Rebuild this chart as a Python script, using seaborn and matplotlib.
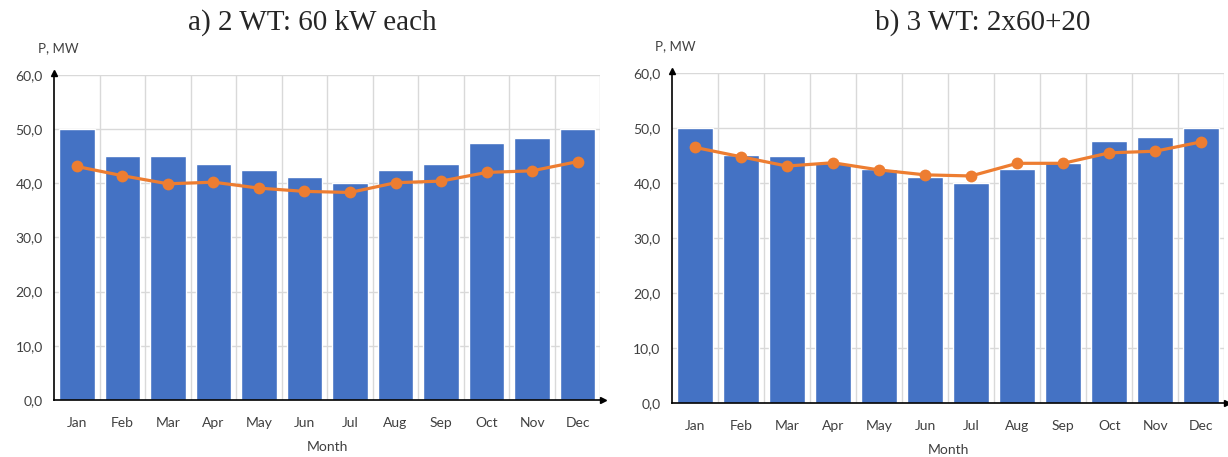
import numpy as np
import pandas as pd
import seaborn as sns
import matplotlib.pyplot as plt
from matplotlib.ticker import FuncFormatter, MultipleLocator

# monthly data
months = ['Jan', 'Feb', 'Mar', 'Apr', 'May', 'Jun', 'Jul', 'Aug', 'Sep', 'Oct', 'Nov', 'Dec']
demand = [50.0, 45.1, 45.1, 43.5, 42.5, 41.2, 40.1, 42.5, 43.5, 47.5, 48.3, 50.0]
demand_b = [50.0, 45.2, 44.9, 43.6, 42.5, 41.2, 40.1, 42.5, 43.6, 47.6, 48.4, 50.0]
gen_a = [43.1, 41.4, 39.9, 40.2, 39.1, 38.5, 38.3, 40.1, 40.4, 42.0, 42.3, 44.0]
gen_b = [46.5, 44.8, 43.1, 43.7, 42.4, 41.5, 41.3, 43.6, 43.6, 45.5, 45.8, 47.5]
titles = ['a) 2 WT: 60 kW each', 'b) 3 WT: 2x60+20']

sns.set_theme(style='white')
plt.rcParams['font.family'] = ['Lato', 'DejaVu Sans']

fig = plt.figure(figsize=(12.28, 4.57), dpi=100)
axes = [fig.add_axes([0.044, 0.125, 0.445, 0.711]),
        fig.add_axes([0.547, 0.118, 0.450, 0.722])]

panels = [(demand, gen_a), (demand_b, gen_b)]
for ax, (bars, line), title in zip(axes, panels, titles):
    df = pd.DataFrame({'Month': months, 'bar': bars, 'line': line})
    sns.barplot(data=df, x='Month', y='bar', color='#4472C4', saturation=1,
                width=0.78, ax=ax, zorder=2)
    sns.lineplot(data=df, x='Month', y='line', color='#ED7D31', linewidth=2.3,
                 marker='o', markersize=8.5, markeredgewidth=0, ax=ax, zorder=3)
    ax.set_xlim(-0.5, 11.5)
    ax.set_ylim(0, 60)
    ax.yaxis.set_major_locator(MultipleLocator(10))
    ax.yaxis.set_major_formatter(FuncFormatter(lambda v, p: f'{v:.1f}'.replace('.', ',')))
    ax.set_xticks(np.arange(12) + 0.5, minor=True)
    ax.grid(True, axis='y', color='#D9D9D9', linewidth=1, zorder=0)
    ax.grid(True, axis='x', which='minor', color='#D9D9D9', linewidth=1, zorder=0)
    ax.set_axisbelow(True)
    for s in ['top', 'right']:
        ax.spines[s].set_visible(False)
    for s in ['left', 'bottom']:
        ax.spines[s].set_color('black')
        ax.spines[s].set_linewidth(1.2)
    ax.tick_params(axis='both', which='both', length=0, labelsize=10,
                   labelcolor='#404040')
    ax.tick_params(axis='x', pad=12)
    ax.tick_params(axis='y', pad=8)
    ax.set_xlabel('Month', fontsize=10, color='#404040', labelpad=9)
    ax.set_ylabel('')
    # arrow heads on the axes
    ax.plot(0, 1.005, '^', color='black', markersize=5, transform=ax.transAxes, clip_on=False)
    ax.plot(1.005, 0, '>', color='black', markersize=5, transform=ax.transAxes, clip_on=False)
    ax.text(-0.03, 1.065, 'P, MW', transform=ax.transAxes, fontsize=9.5,
            color='#404040', ha='left', va='bottom')

fig.text(0.254, 0.95, titles[0], fontsize=21, family='Liberation Serif', ha='center', va='center')
fig.text(0.8005, 0.95, titles[1], fontsize=21, family='Liberation Serif', ha='center', va='center')

fig.savefig('out.png', dpi=100)
